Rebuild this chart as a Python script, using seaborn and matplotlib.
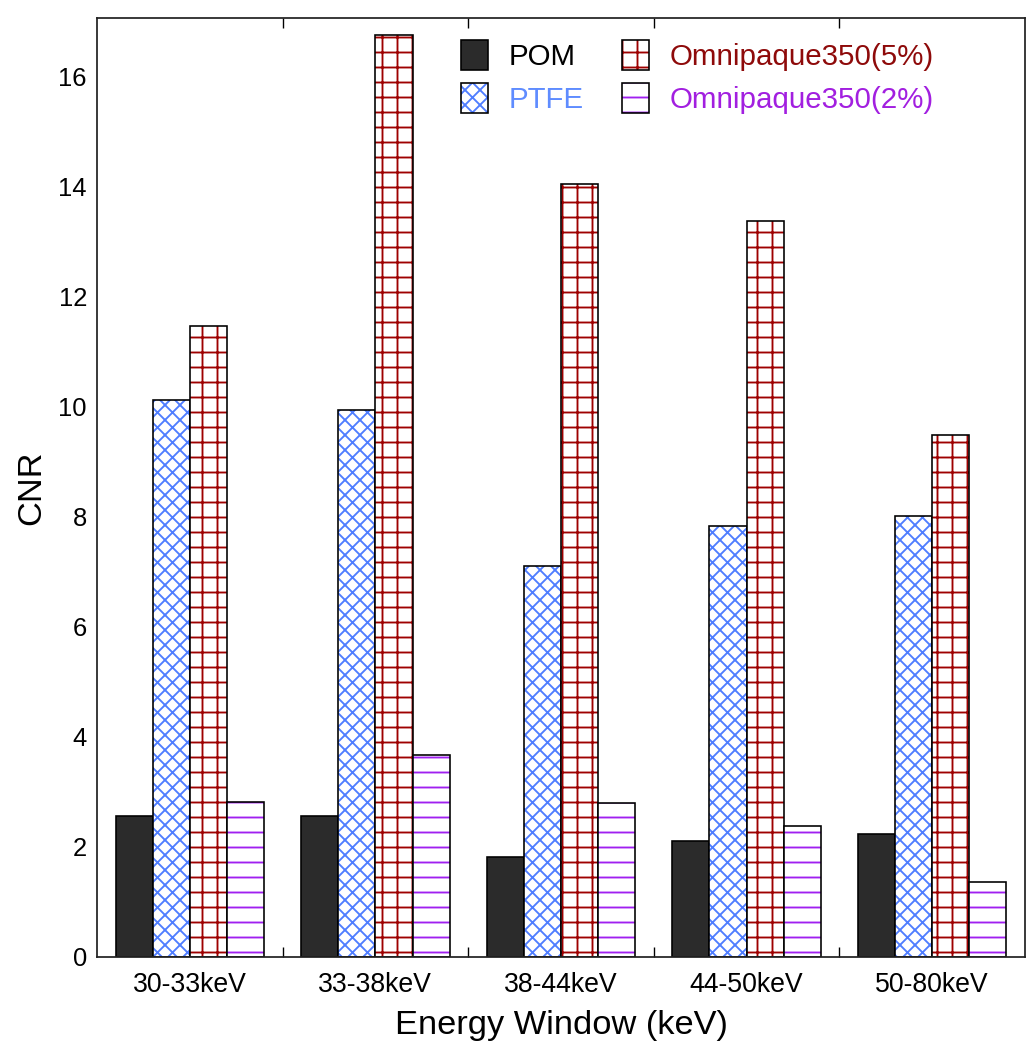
import numpy as np
import pandas as pd
import matplotlib
matplotlib.use("Agg")
import matplotlib.pyplot as plt
import seaborn as sns
from matplotlib.colors import to_rgba
from matplotlib.patches import Patch
from matplotlib.ticker import FixedLocator

# --- data ---
windows = ["30-33keV", "33-38keV", "38-44keV", "44-50keV", "50-80keV"]
materials = ["POM", "PTFE", "Omnipaque350(5%)", "Omnipaque350(2%)"]

pom = [2.56, 2.56, 1.81, 2.10, 2.24]
ptfe = [10.12, 9.95, 7.10, 7.83, 8.01]
omni5 = [11.47, 16.76, 14.06, 13.37, 9.48]
omni2 = [2.81, 3.68, 2.80, 2.38, 1.37]

yticks = [0, 2, 4, 6, 8, 10, 12, 14, 16]
group_edges = [0.5, 1.5, 2.5, 3.5]

# --- styles per material ---
face = {"POM": "#2b2b2b", "PTFE": "white",
        "Omnipaque350(5%)": "white", "Omnipaque350(2%)": "white"}
hatch = {"POM": None, "PTFE": "xx", "Omnipaque350(5%)": "+", "Omnipaque350(2%)": "-"}
hatch_col = {"POM": "black", "PTFE": "#4f7dff",
             "Omnipaque350(5%)": "#9e0000", "Omnipaque350(2%)": "#a020f0"}
text_col = {"POM": "black", "PTFE": "#5f8cff",
            "Omnipaque350(5%)": "#8e0a0a", "Omnipaque350(2%)": "#a21fe0"}

df = pd.DataFrame({
    "window": windows * 4,
    "material": np.repeat(materials, len(windows)),
    "cnr": pom + ptfe + omni5 + omni2,
})

sns.set_style("ticks")
plt.rcParams["font.family"] = ["Liberation Sans", "DejaVu Sans"]
plt.rcParams["hatch.linewidth"] = 1.5
for k in ["text.color", "axes.labelcolor", "xtick.color", "ytick.color"]:
    plt.rcParams[k] = "black"

DPI = 90
fig = plt.figure(figsize=(1036 / DPI, 1050 / DPI), dpi=DPI)
ax = fig.add_axes([0.0936, 0.0886, 0.8958, 0.8943])

sns.barplot(data=df, x="window", y="cnr", hue="material", order=windows,
            hue_order=materials, palette=face, width=0.8, legend=False,
            edgecolor="black", linewidth=1.3, saturation=1, ax=ax)

# hatch colour differs from the black outline
for mat, cont in zip(materials, ax.containers):
    for bar in cont:
        bar.set_facecolor(face[mat])
        bar.set_edgecolor("black")
        if hatch[mat]:
            bar.set_hatch(hatch[mat])
            bar._hatch_color = to_rgba(hatch_col[mat])

ax.set_xlim(-0.5, 4.5)
ax.set_ylim(0, 17.07)
ax.set_yticks(yticks)
ax.xaxis.set_minor_locator(FixedLocator(group_edges))
ax.tick_params(axis="x", which="major", length=0, pad=12, labelsize=21.3)
ax.tick_params(axis="x", which="minor", direction="in", length=8, width=1.1,
               top=True, bottom=True)
ax.tick_params(axis="y", length=0, pad=8, labelsize=20.5)

for sp in ax.spines.values():
    sp.set_visible(True)
    sp.set_linewidth(1.4)
    sp.set_color("#222222")

ax.set_xlabel("Energy Window (keV)", fontsize=27.5, labelpad=10)
ax.set_ylabel("CNR", fontsize=27.5, labelpad=9)

# legend
handles = []
for mat in materials:
    h = Patch(facecolor=face[mat], edgecolor="black", linewidth=1.3,
              hatch=hatch[mat])
    if hatch[mat]:
        h._hatch_color = to_rgba(hatch_col[mat])
    handles.append(h)

leg = ax.legend(handles, materials, ncol=2, loc="upper left",
                bbox_to_anchor=(0.392, 0.977), frameon=False, fontsize=23.6,
                handlelength=0.92, handleheight=1.2, handletextpad=0.7,
                columnspacing=1.3, labelspacing=0.42, borderpad=0,
                borderaxespad=0)
for mat, t in zip(materials, leg.get_texts()):
    t.set_color(text_col[mat])

fig.savefig("out.png", dpi=DPI)
